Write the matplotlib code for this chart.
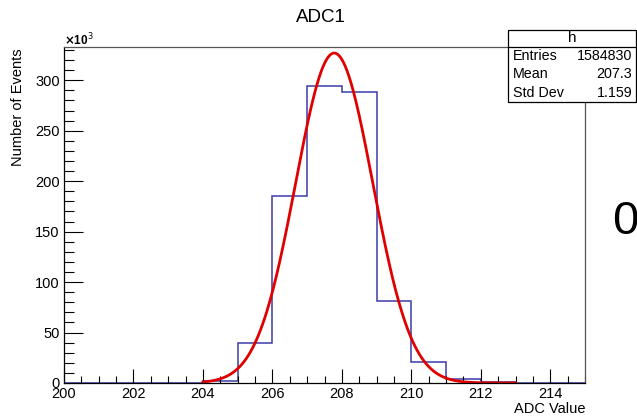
import numpy as np
import matplotlib
matplotlib.use('Agg')
from matplotlib import pyplot as plt
from matplotlib.patches import Rectangle
from matplotlib.ticker import MultipleLocator

plt.rcParams['font.family'] = ['Liberation Sans', 'DejaVu Sans']

# histogram bins (ADC value) and counts in units of 10^3
bin_edges = np.arange(200, 216, 1)
counts_k = [0, 0, 0, 0, 1.5, 40, 185, 294, 288, 81, 21, 4, 1.2, 0.3, 0]

# gaussian fit
fit_amp = 327.0
fit_mean = 207.78
fit_sigma = 1.11
fit_range = (204.0, 213.0)

stats_labels = ['Entries', 'Mean', 'Std Dev']
stats_values = ['1584830', '207.3', '1.159']

W, H = 637, 416
fig = plt.figure(figsize=(W / 100, H / 100), dpi=100)
ax = fig.add_axes([64 / W, 1 - 383 / H, (585 - 64) / W, (383 - 47) / H])

ax.stairs(counts_k, bin_edges, color='#3b3bab', linewidth=1.1)

x_fit = np.linspace(fit_range[0], fit_range[1], 400)
y_fit = fit_amp * np.exp(-0.5 * ((x_fit - fit_mean) / fit_sigma) ** 2)
ax.plot(x_fit, y_fit, color='#e00000', linewidth=2)

ax.set_xlim(200, 215)
ax.set_ylim(0, 333)
ax.xaxis.set_major_locator(MultipleLocator(2))
ax.xaxis.set_minor_locator(MultipleLocator(0.5))
ax.yaxis.set_major_locator(MultipleLocator(50))
ax.yaxis.set_minor_locator(MultipleLocator(10))
ax.tick_params(which='both', direction='in', labelsize=10.5, width=0.8)
ax.tick_params(axis='x', which='major', length=10, pad=3)
ax.tick_params(axis='x', which='minor', length=5)
ax.tick_params(axis='y', which='major', length=14, pad=3)
ax.tick_params(axis='y', which='minor', length=7)
for s in ax.spines.values():
    s.set_linewidth(0.9)
for s in ('top', 'right'):
    ax.spines[s].set_color('#555555')

fig.text(321 / W, 1 - 18 / H, 'ADC1', ha='center', va='center', fontsize=13.5)
fig.text(18 / W, 1 - 48 / H, 'Number of Events', rotation=90,
         ha='center', va='top', fontsize=10.5)
fig.text(585 / W, 1 - 409 / H, 'ADC Value', ha='right', va='center',
         fontsize=10.5)
fig.text(64 / W, 1 - 40 / H, r'$\mathbf{\times}$10$^{3}$', ha='left',
         va='center', fontsize=8.5, fontweight='bold')
fig.text(625 / W, 1 - 222 / H, '0', ha='center', va='center', fontsize=34)

# stats box
bx0, bx1, by0, by1, bsep = 508, 636, 30, 102, 47
fig.patches.append(Rectangle((bx0 / W, 1 - by1 / H), (bx1 - bx0) / W,
                             (by1 - by0) / H, transform=fig.transFigure,
                             facecolor='white', edgecolor='black',
                             linewidth=0.9, zorder=5))
fig.lines.append(plt.Line2D([bx0 / W, bx1 / W], [1 - bsep / H, 1 - bsep / H],
                            transform=fig.transFigure, color='black',
                            linewidth=0.9, zorder=6))
fig.text((bx0 + bx1) / 2 / W, 1 - 38.5 / H, 'h', ha='center', va='center',
         fontsize=11, zorder=7)
row_h = (by1 - bsep) / 3
for i, (lab, val) in enumerate(zip(stats_labels, stats_values)):
    yc = 1 - (bsep + row_h * (i + 0.5)) / H
    fig.text(513 / W, yc, lab, ha='left', va='center', fontsize=10.3, zorder=7)
    fig.text(632 / W, yc, val, ha='right', va='center', fontsize=10.3, zorder=7)

fig.savefig('out.png', dpi=100)
